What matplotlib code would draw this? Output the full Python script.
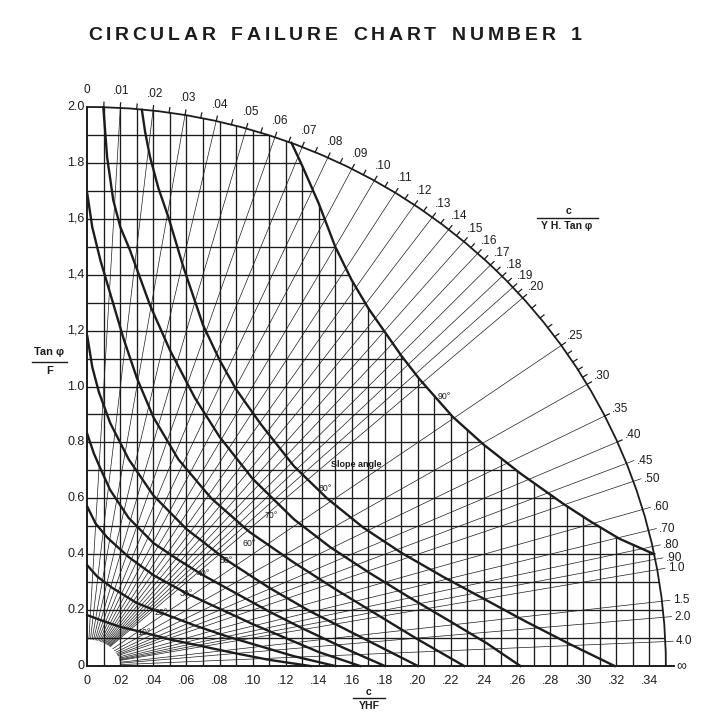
import numpy as np
import matplotlib
matplotlib.use("Agg")
import matplotlib.pyplot as plt
from matplotlib.patches import Arc, Ellipse, Polygon

plt.rcParams['font.family'] = ['Liberation Sans', 'DejaVu Sans']

INK = '#1c1c1c'
W, H = 709, 715

# outer scale, c / (YH tan phi)
ratio_values = [0, .01, .02, .03, .04, .05, .06, .07, .08, .09, .10,
                .11, .12, .13, .14, .15, .16, .17, .18, .19, .20,
                .25, .30, .35, .40, .45, .50, .60, .70, .80, .90,
                1.0, 1.5, 2.0, 4.0]
ratio_labels = ['0', '.01', '.02', '.03', '.04', '.05', '.06', '.07', '.08',
                '.09', '.10', '.11', '.12', '.13', '.14', '.15', '.16', '.17',
                '.18', '.19', '.20', '.25', '.30', '.35', '.40', '.45', '.50',
                '.60', '.70', '.80', '.90', '1.0', '1.5', '2.0', '4.0']
minor_ratios = [.005, .015, .025, .035, .045, .055, .065, .075, .085, .095,
                .105, .115, .125, .135, .145, .155, .165, .175, .185, .195,
                .21, .22, .23, .24, .26, .27, .28, .29]

x_ticks = [0, .02, .04, .06, .08, .10, .12, .14, .16, .18, .20, .22, .24,
           .26, .28, .30, .32, .34]
x_tick_labels = ['0', '.02', '.04', '.06', '.08', '.10', '.12', '.14', '.16',
                 '.18', '.20', '.22', '.24', '.26', '.28', '.30', '.32', '.34']
y_ticks = [0, .2, .4, .6, .8, 1.0, 1.2, 1.4, 1.6, 1.8, 2.0]
y_tick_labels = ['0', '0.2', '0.4', '0.6', '0.8', '1.0', '1,2', '1,4', '1,6',
                 '1.8', '2.0']

# slope angle curves (c/YHF, tan phi/F)
c90_x = [0.1235, 0.130, 0.140, 0.150, 0.160, 0.170, 0.180, 0.190, 0.201,
         0.221, 0.240, 0.262, 0.288, 0.305, 0.322, 0.343]
c90_y = [1.872, 1.79, 1.655, 1.50, 1.38, 1.28, 1.195, 1.11, 1.026,
         0.892, 0.791, 0.689, 0.58, 0.515, 0.455, 0.40]
c80_x = [0.033, 0.035, 0.038, 0.043, 0.049, 0.058, 0.070, 0.080, 0.090,
         0.105, 0.125, 0.145, 0.167, 0.190, 0.215, 0.240, 0.265, 0.292, 0.319]
c80_y = [1.99, 1.91, 1.82, 1.71, 1.607, 1.43, 1.22, 1.095, 0.99,
         0.865, 0.715, 0.60, 0.495, 0.405, 0.32, 0.24, 0.16, 0.078, 0.0]
c70_x = [0.0097, 0.012, 0.0157, 0.020, 0.0258, 0.038, 0.050, 0.065, 0.080,
         0.100, 0.125, 0.147, 0.171, 0.195, 0.220, 0.242, 0.262]
c70_y = [1.999, 1.82, 1.667, 1.57, 1.488, 1.29, 1.13, 0.96, 0.82,
         0.67, 0.525, 0.425, 0.332, 0.245, 0.158, 0.08, 0.0]
c60_x = [0, 0.003, 0.008, 0.014, 0.022, 0.030, 0.040, 0.055, 0.075, 0.098,
         0.125, 0.150, 0.175, 0.200, 0.228]
c60_y = [1.69, 1.57, 1.45, 1.33, 1.17, 1.03, 0.89, 0.74, 0.60, 0.48,
         0.37, 0.275, 0.185, 0.095, 0.0]
c50_x = [0, 0.003, 0.007, 0.0138, 0.025, 0.040, 0.060, 0.084, 0.110, 0.135,
         0.160, 0.180, 0.200]
c50_y = [1.18, 1.07, 0.98, 0.87, 0.74, 0.61, 0.49, 0.38, 0.28, 0.195,
         0.12, 0.06, 0.0]
c40_x = [0, 0.004, 0.0077, 0.0138, 0.025, 0.040, 0.055, 0.070, 0.090, 0.110,
         0.130, 0.155, 0.180]
c40_y = [0.83, 0.76, 0.71, 0.63, 0.53, 0.44, 0.38, 0.325, 0.26, 0.195,
         0.135, 0.065, 0.0]
c30_x = [0, 0.005, 0.012, 0.025, 0.040, 0.060, 0.080, 0.100, 0.120, 0.140,
         0.165]
c30_y = [0.57, 0.51, 0.46, 0.39, 0.325, 0.26, 0.205, 0.15, 0.10, 0.05, 0.0]
c20_x = [0, 0.006, 0.015, 0.030, 0.045, 0.065, 0.085, 0.105, 0.125, 0.150]
c20_y = [0.36, 0.32, 0.28, 0.225, 0.19, 0.145, 0.105, 0.07, 0.035, 0.0]
c10_x = [0, 0.010, 0.020, 0.034, 0.050, 0.070, 0.090, 0.110, 0.135]
c10_y = [0.182, 0.16, 0.14, 0.12, 0.095, 0.07, 0.045, 0.022, 0.0]

# semi axes of the outer arc
A_X, B_Y = 0.35, 2.0


def arc_point(r):
    y = 1.0 / np.sqrt((r / A_X) ** 2 + (1.0 / B_Y) ** 2)
    return r * y, y


fig = plt.figure(figsize=(W / 100, H / 100), dpi=100, facecolor='white')
ax = fig.add_axes([87.3 / W, 1 - 666 / H, (A_X * 1653) / W, 559 / H])
ax.set_xlim(0, A_X)
ax.set_ylim(0, B_Y)
ax.axis('off')

to_px = ax.transData.transform
from_px = ax.transData.inverted().transform


def push_out(x, y, dist_px):
    o = to_px((0, 0))
    p = to_px((x, y))
    d = (p - o) / np.hypot(*(p - o))
    return from_px(p + d * dist_px), d


# rays from the origin to the arc
for r in ratio_values[1:]:
    x, y = arc_point(r)
    if r >= 0.45:
        (x, y), _ = push_out(x, y, 8)
    ax.plot([0, x], [0, y], color=INK, lw=0.5, zorder=1, clip_on=False)

# blank patch round the origin
ax.add_patch(Ellipse((0, 0), 0.04, 0.19, facecolor='white',
                     edgecolor='none', zorder=1.5))

# grid, only inside the 90 degree curve
t0 = np.degrees(np.arctan2(c90_y[0] / B_Y, c90_x[0] / A_X))
t1 = np.degrees(np.arctan2(c90_y[-1] / B_Y, c90_x[-1] / A_X))
ta = np.radians(np.linspace(90, t0, 40))
tb = np.radians(np.linspace(t1, 0, 30))
verts = ([(0, 0)] + list(zip(A_X * np.cos(ta), B_Y * np.sin(ta)))
         + list(zip(c90_x, c90_y))
         + list(zip(A_X * np.cos(tb), B_Y * np.sin(tb))))
region = Polygon(verts, closed=True, transform=ax.transData)

for gx in np.round(np.arange(0.01, 0.345, 0.01), 2):
    ln, = ax.plot([gx, gx], [0, B_Y], color=INK, lw=0.95, zorder=2)
    ln.set_clip_path(region)
for gy in np.round(np.arange(0.1, 1.95, 0.1), 1):
    ln, = ax.plot([0, A_X], [gy, gy], color=INK, lw=0.95, zorder=2)
    ln.set_clip_path(region)

# axes lines
ax.plot([0, 0], [0, B_Y], color=INK, lw=1.4, zorder=3, clip_on=False)
inf_end, _ = push_out(A_X, 0.0001, 8)
ax.plot([0, inf_end[0]], [0, 0], color=INK, lw=1.4, zorder=3, clip_on=False)

# outer arc
ax.add_patch(Arc((0, 0), 2 * A_X, 2 * B_Y, theta1=0, theta2=90, color=INK,
                 lw=1.3, zorder=4, clip_on=False))

# slope angle curves
for cx, cy in [(c90_x, c90_y), (c80_x, c80_y), (c70_x, c70_y),
               (c60_x, c60_y), (c50_x, c50_y), (c40_x, c40_y),
               (c30_x, c30_y), (c20_x, c20_y), (c10_x, c10_y)]:
    ax.plot(cx, cy, color=INK, lw=1.7, zorder=4, clip_on=False,
            solid_joinstyle='round')

# arc ticks and labels
for r in minor_ratios + [v for v in ratio_values[1:] if v <= 0.40]:
    x, y = arc_point(r)
    (ex, ey), _ = push_out(x, y, 5)
    ax.plot([x, ex], [y, ey], color=INK, lw=0.9, zorder=4, clip_on=False)

for r, lab in zip(ratio_values, ratio_labels):
    x, y = arc_point(r)
    if r <= 0.40:
        if r == 0:
            d = np.array([0.0, 1.0])
        else:
            _, d = push_out(x, y, 1)
        off = d * 17 * 72 / 100
        ax.annotate(lab, (x, y), xytext=(off[0], off[1]),
                    textcoords='offset points', ha='center', va='center',
                    fontsize=8.5, color=INK, annotation_clip=False)
    else:
        (ex, ey), _ = push_out(x, y, 8)
        ax.annotate(lab, (ex, ey), xytext=(2, 0), textcoords='offset points',
                    ha='left', va='center', fontsize=8.5, color=INK,
                    annotation_clip=False)
ax.annotate('\u221e', (inf_end[0], 0), xytext=(2, 0),
            textcoords='offset points', ha='left', va='center',
            fontsize=10, color=INK, annotation_clip=False)

# tick labels
for tx, lab in zip(x_ticks, x_tick_labels):
    ax.annotate(lab, (tx, 0), xytext=(0, -10.5), textcoords='offset points',
                ha='center', va='center', fontsize=9, color=INK,
                annotation_clip=False)
for ty, lab in zip(y_ticks, y_tick_labels):
    ax.annotate(lab, (0, ty), xytext=(-2, 0), textcoords='offset points',
                ha='right', va='center', fontsize=9, color=INK,
                annotation_clip=False)

# slope angle notes
for lab, lx, ly in [('90°', 0.216, 0.965), ('80°', 0.144, 0.636),
                    ('70°', 0.111, 0.54), ('60°', 0.098, 0.44),
                    ('50°', 0.084, 0.377), ('40°', 0.070, 0.33),
                    ('30°', 0.060, 0.26), ('20°', 0.045, 0.19),
                    ('10°', 0.034, 0.12)]:
    ax.text(lx, ly, lab, fontsize=6.3, color=INK, ha='center', va='center',
            zorder=6)
ax.text(0.163, 0.72, 'Slope angle', fontsize=6.5, fontweight='bold',
        color=INK, ha='center', va='center', zorder=6)

# axis titles as fractions
fig.text(49.3 / W, 1 - 352 / H, 'Tan \u03c6', fontsize=8, fontweight='bold',
         ha='center', va='center', color=INK)
fig.add_artist(plt.Line2D([31.7 / W, 66.7 / W], [1 - 361.5 / H] * 2,
                          color=INK, lw=1.0))
fig.text(50 / W, 1 - 371 / H, 'F', fontsize=8, fontweight='bold',
         ha='center', va='center', color=INK)

fig.text(369 / W, 1 - 692 / H, 'c', fontsize=7.5, fontweight='bold',
         ha='center', va='center', color=INK)
fig.add_artist(plt.Line2D([353 / W, 385 / W], [1 - 698 / H] * 2,
                          color=INK, lw=1.0))
fig.text(369 / W, 1 - 706 / H, 'YHF', fontsize=7.5, fontweight='bold',
         ha='center', va='center', color=INK)

fig.text(568 / W, 1 - 211 / H, 'c', fontsize=7.5, fontweight='bold',
         ha='center', va='center', color=INK)
fig.add_artist(plt.Line2D([537 / W, 598 / W], [1 - 218 / H] * 2,
                          color=INK, lw=1.0))
fig.text(567 / W, 1 - 226 / H, 'Y H. Tan \u03c6', fontsize=7.5,
         fontweight='bold', ha='center', va='center', color=INK)

# title, letters spread to span 88..582 px
renderer = fig.canvas.get_renderer()
title_text = 'CIRCULAR FAILURE CHART NUMBER 1'
glyphs = []
for ch in title_text:
    if ch == ' ':
        glyphs.append(None)
        continue
    t = fig.text(0, 1 - 36 / H, ch, fontsize=14, fontweight='bold',
                 ha='left', va='center', color=INK)
    glyphs.append((t, t.get_window_extent(renderer).width))
n_gaps = len(title_text) - 1
word_gap = 8.0
used = sum(g[1] for g in glyphs if g) + word_gap * title_text.count(' ')
track = (582 - 88 - used) / n_gaps
px = 88.0
for g in glyphs:
    if g is None:
        px += word_gap + track
        continue
    g[0].set_x(px / W)
    px += g[1] + track

fig.savefig('out.png', dpi=100, facecolor='white')
